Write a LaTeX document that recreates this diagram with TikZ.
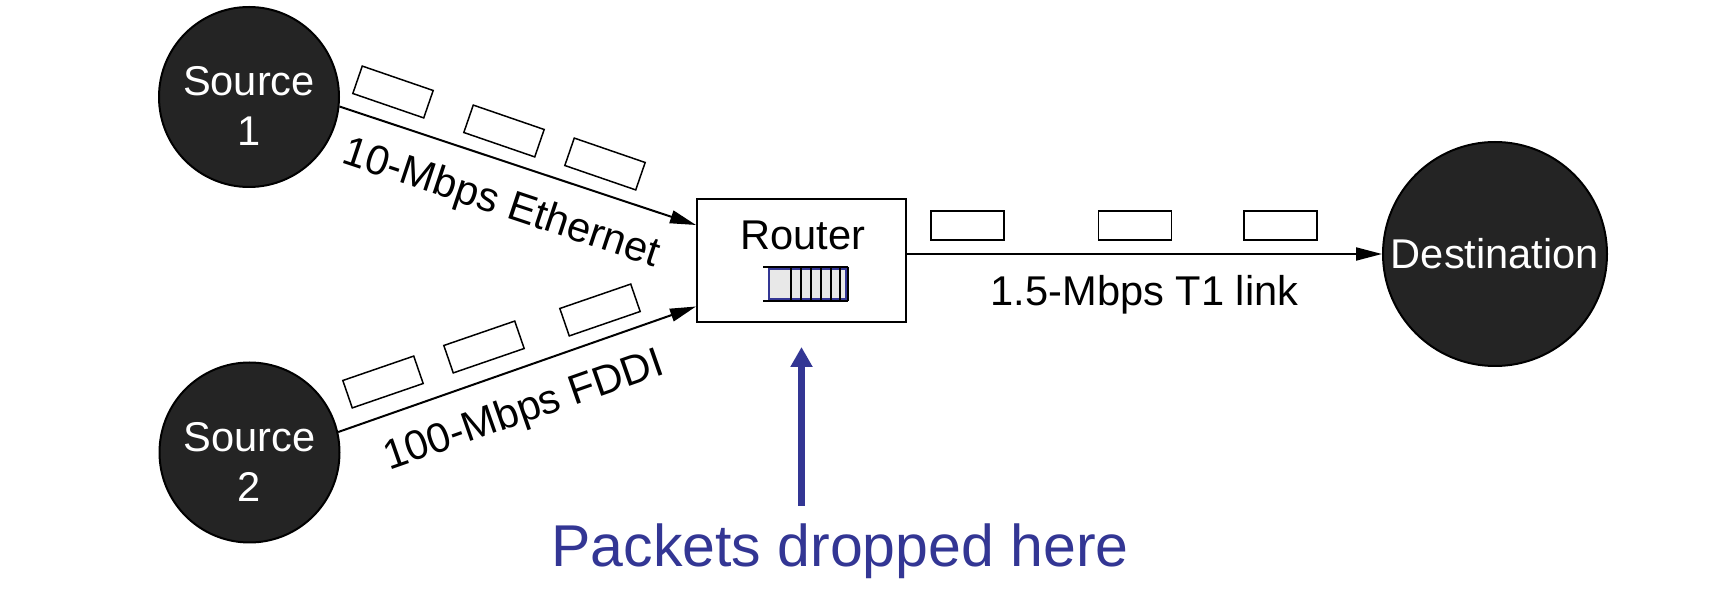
\documentclass[tikz,border=0pt]{standalone}
\usepackage{fontspec}
\setmainfont{Liberation Sans}
\usepackage{tikz}
\usetikzlibrary{shapes,arrows.meta}
\definecolor{hostgray}{rgb}{0.14, 0.14, 0.14}
\definecolor{queuegray}{rgb}{0.91, 0.91, 0.91}
\definecolor{dropblue}{rgb}{0.2, 0.21, 0.58}
\newcommand{\hoststrut}{\rule{0pt}{24pt}}

\begin{document}
\begin{tikzpicture}[x=0.5pt,y=-0.5pt]
  \tikzset{HostStyle/.style = {
    shape         = circle,
    draw          = black,
    fill          = hostgray,
    line width    = 1pt,
    text          = white,
    align         = center,
    inner sep     = 0pt,
    minimum size  = 90pt,
    font          = \fontsize{20.8}{25}\selectfont
    }
  }
  \tikzset{RouterStyle/.style = {
    shape         = rectangle,
    draw          = black,
    fill          = white,
    line width    = 1pt,
    minimum width = 104.5pt,
    minimum height= 61.5pt
    }
  }
  \tikzset{PacketStyle/.style = {
    shape         = rectangle,
    draw          = black,
    fill          = white,
    line width    = 0.75pt,
    inner sep     = 0pt,
    minimum width = 37.5pt,
    minimum height= 14.5pt
    }
  }
  \tikzset{LinkStyle/.style = {
    draw          = black,
    line width    = 1pt,
    -{Triangle[length=13pt,width=6.5pt]}
    }
  }
  \tikzset{LabelStyle/.style = {
    text          = black,
    inner sep     = 11pt,
    font          = \fontsize{20.8}{25}\selectfont
    }
  }
  \tikzset{DropStyle/.style = {
    draw          = dropblue,
    line width    = 3.5pt,
    -{Triangle[length=10pt,width=10.5pt]}
    }
  }

  \useasboundingbox (0, 0) rectangle (1736, 598);

	\node[HostStyle](S1) at (249, 97) {\hoststrut Source\\1};
	\node[HostStyle](S2) at (249.5, 452.5) {\hoststrut Source\\2};
	\node[HostStyle, minimum size=112pt](D1) at (1495, 254) {Destination};
	\node[RouterStyle](R1) at (801.5, 260.5) {};
	\node[LabelStyle, inner sep=0pt](R2) at (803, 235) {Router};

	% queue inside the router
	\draw[draw=dropblue, fill=queuegray, line width=0.75pt] (769, 269) rectangle (846, 299);
	\draw[line width=1pt] (763, 267) -- (848, 267) (763, 301) -- (848, 301);
	\foreach \x in {791, 801, 811, 821, 831, 840, 848}
	  \draw[line width=1pt] (\x, 267) -- (\x, 301);

	% packets on the links
	\foreach \x/\y [count=\i] in {393/92, 504/131, 605/164}
	  \node[PacketStyle, rotate=-19](PA\i) at (\x, \y) {};
	\foreach \x/\y [count=\i] in {383/382, 484/347, 600/310}
	  \node[PacketStyle, rotate=19](PB\i) at (\x, \y) {};
	\foreach \x [count=\i] in {967.5, 1135, 1280.5}
	  \node[PacketStyle, minimum width=36.5pt](PC\i) at (\x, 225.5) {};

	\draw[LinkStyle](S1.-6) to node[LabelStyle, sloped, below, pos=0.49]{10-Mbps Ethernet} ([yshift=17.75pt]R1.west);
	\draw[LinkStyle](S2.13) to node[LabelStyle, sloped, below, pos=0.48]{100-Mbps FDDI} ([yshift=-23pt]R1.west);
	\draw[LinkStyle](R1.east |- D1.west) to node[LabelStyle, below, inner sep=10pt]{1.5-Mbps T1 link} (D1.west);

	\node[LabelStyle, inner sep=0pt, anchor=base, text=dropblue, font=\fontsize{29.5}{34}\selectfont](T1) at (840, 567) {Packets dropped here};
	\coordinate (drop) at ([yshift=-12pt]R1.south);
	\draw[DropStyle, shorten <=9pt] (T1.north -| drop) -- (drop);

  \end{tikzpicture}
\end{document}
